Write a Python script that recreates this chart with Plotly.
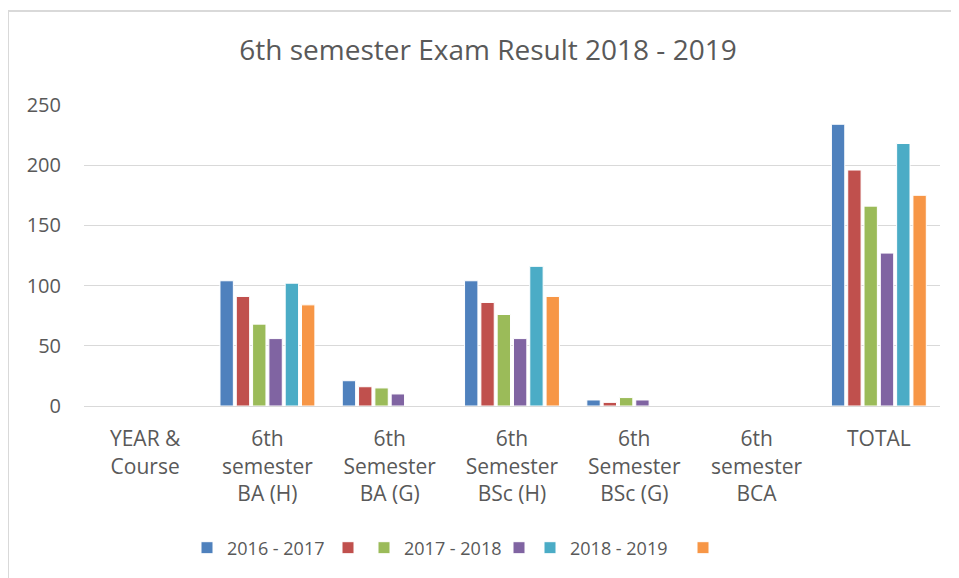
import plotly.graph_objects as go

categories = ["YEAR &<br>Course", "6th<br>semester<br>BA (H)", "6th<br>Semester<br>BA (G)",
              "6th<br>Semester<br>BSc (H)", "6th<br>Semester<br>BSc (G)", "6th<br>semester<br>BCA", "TOTAL"]

s2016_2017 = [None, 104, 21, 104, 5, None, 234]
s_red = [None, 91, 16, 86, 3, None, 196]
s2017_2018 = [None, 68, 15, 76, 7, None, 166]
s_purple = [None, 56, 10, 56, 5, None, 127]
s2018_2019 = [None, 102, None, 116, None, None, 218]
s_orange = [None, 84, None, 91, None, None, 175]

series = [
    ("2016 - 2017", s2016_2017, "#4F81BD"),
    ("", s_red, "#C0504D"),
    ("2017 - 2018", s2017_2018, "#9BBB59"),
    ("", s_purple, "#8064A2"),
    ("2018 - 2019", s2018_2019, "#4BACC6"),
    ("", s_orange, "#F79646"),
]

FONT = "Open Sans"
W, H = 951, 570
L, R, T, B = 76, 19, 97, 172
PW, PH = W - L - R, H - T - B

# legend symbol left edges (pixels in figure coordinates)
legend_px = [193, 334, 370, 505, 536, 689]
SYM_OFFSET = 14
legend_y = (PH - 540 + T) / PH

fig = go.Figure()
legend_layouts = {}
for i, (name, vals, color) in enumerate(series):
    lname = "legend" if i == 0 else f"legend{i + 1}"
    fig.add_trace(go.Bar(x=categories, y=vals, name=name, legend=lname,
                         marker=dict(color=color, line=dict(color="white", width=1))))
    legend_layouts[lname] = dict(
        orientation="h", x=(legend_px[i] - SYM_OFFSET - L) / PW, xanchor="left",
        y=legend_y, yanchor="middle", bgcolor="rgba(0,0,0,0)",
        font=dict(family=FONT, size=18, color="#595959"), itemwidth=30)

fig.update_layout(
    width=W, height=H,
    margin=dict(l=L, r=R, t=T, b=B),
    paper_bgcolor="white", plot_bgcolor="white",
    barmode="group", bargap=0.2, bargroupgap=0.18,
    title=dict(text="6th semester Exam Result 2018 - 2019", x=480 / W, xanchor="center",
               y=1 - 42 / H, yanchor="middle",
               font=dict(family=FONT, size=28, color="#595959")),
    font=dict(family=FONT, size=21, color="#595959"),
    xaxis=dict(showgrid=False, showline=True, linecolor="#D9D9D9", linewidth=1,
               ticks="", tickfont=dict(size=21, color="#595959"), ticklabelstandoff=14),
    yaxis=dict(range=[0, 250], dtick=50, showgrid=True, gridcolor="#D9D9D9", gridwidth=1,
               zeroline=False, ticks="", tickfont=dict(size=20, color="#595959"),
               ticklabelstandoff=22),
    showlegend=True,
    **legend_layouts,
)

fig.add_shape(type="line", xref="paper", yref="paper",
              x0=-L / PW, x1=1.05, y0=1 + (T - 3) / PH, y1=1 + (T - 3) / PH,
              line=dict(color="#D9D9D9", width=2))
fig.add_shape(type="line", xref="paper", yref="paper",
              x0=-L / PW, x1=-L / PW, y0=1 + (T - 3) / PH, y1=-0.7,
              line=dict(color="#D9D9D9", width=2))

fig.write_html("out.html")
